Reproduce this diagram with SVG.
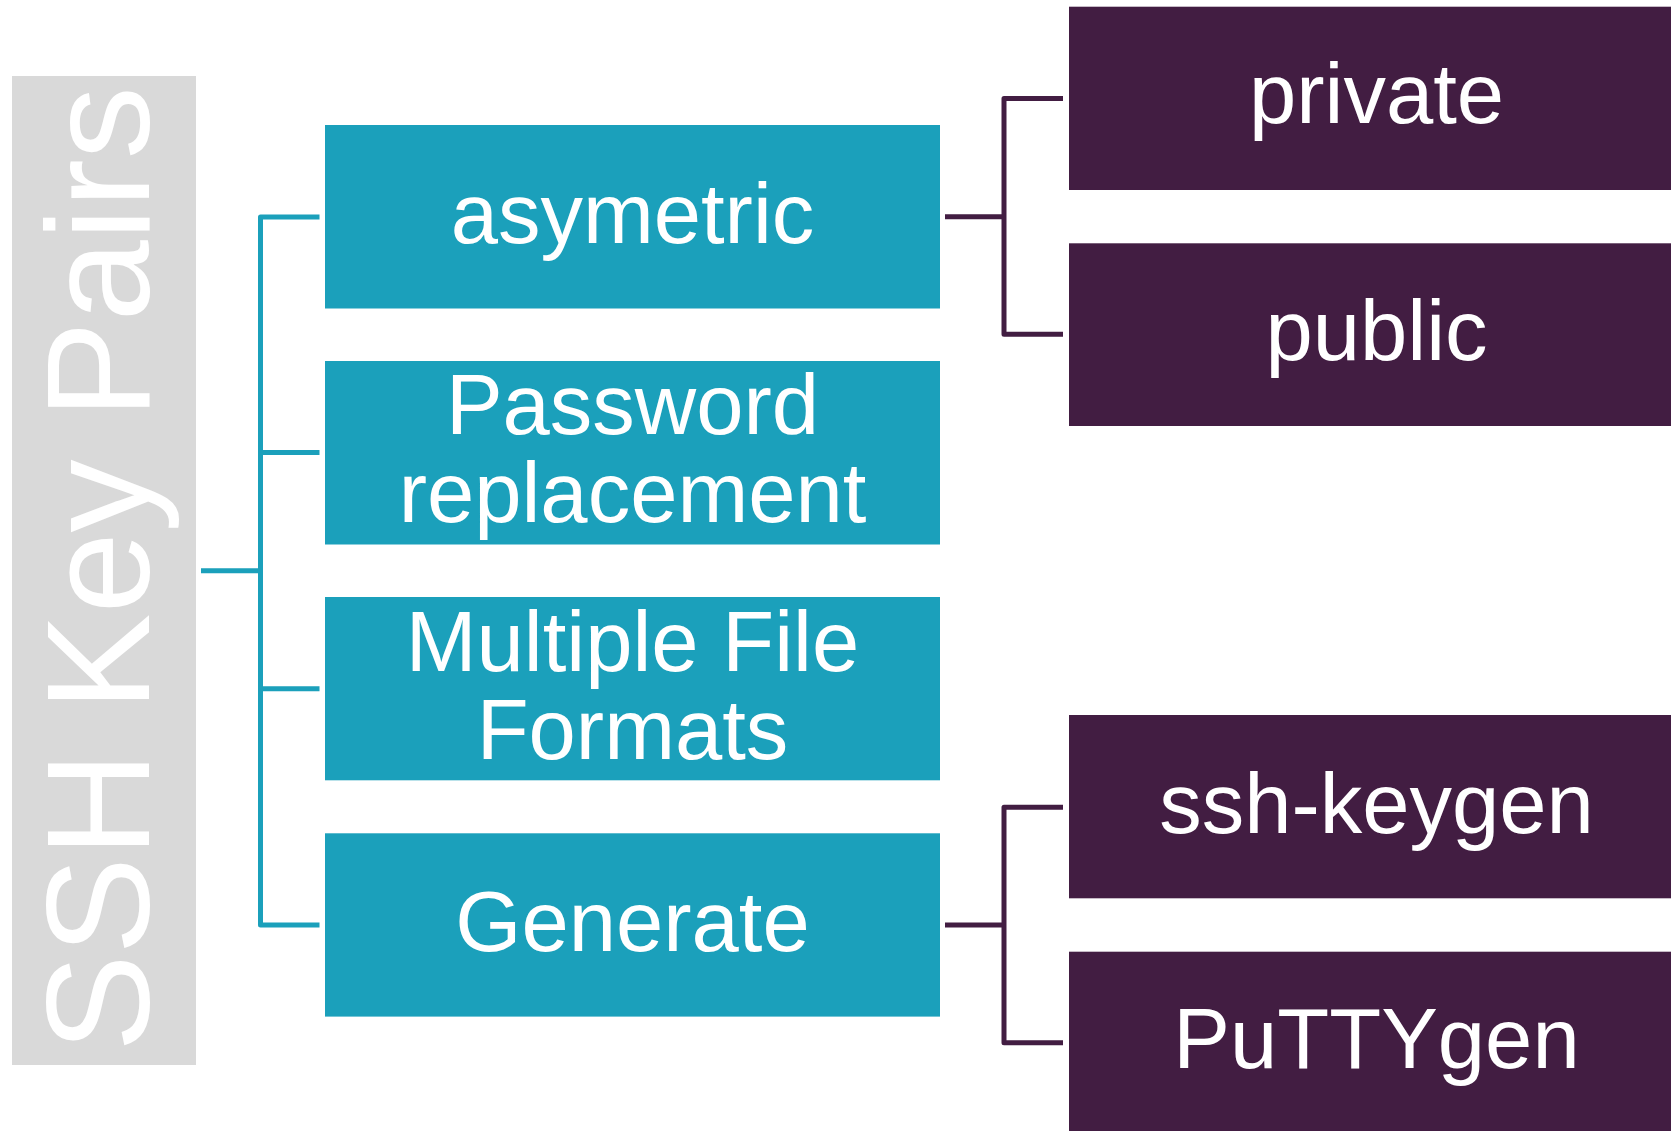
<svg xmlns="http://www.w3.org/2000/svg" width="1671" height="1131" viewBox="0 0 1671 1131">
<style>
.t{font-family:"Liberation Sans",Arial,sans-serif;fill:#ffffff;text-anchor:middle;font-size:85px}
.teal{fill:#1BA0BB}
.purp{fill:#421D42}
.ct{fill:none;stroke:#1BA0BB;stroke-width:5;stroke-linejoin:round}
.cp{fill:none;stroke:#421D42;stroke-width:5;stroke-linejoin:round}
</style>
<rect width="1671" height="1131" fill="#ffffff"/>
<g id="connectors">
<path class="ct" d="M201,570.7 H260.5 M319.5,217 H260.5 V925 H319.5 M260.5,452.5 H319.5 M260.5,688.7 H319.5"/>
<path class="cp" d="M945,216.7 H1004 M1063,98.5 H1004 V334.3 H1063"/>
<path class="cp" d="M945,925 H1004 M1063,807.3 H1004 V1042.7 H1063"/>
</g>
<g id="root">
<rect x="12" y="76" width="184" height="989" fill="#D9D9D9"/>
<text class="t" style="font-size:146px" transform="translate(149,569) rotate(-90)">SSH Key Pairs</text>
</g>
<g id="asymetric">
<rect class="teal" x="325" y="125" width="615" height="183.5"/>
<text class="t" x="632.5" y="242.7">asymetric</text>
</g>
<g id="password">
<rect class="teal" x="325" y="361" width="615" height="183.5"/>
<text class="t" x="632.5" y="434.3">Password</text>
<text class="t" x="632.5" y="522.3">replacement</text>
</g>
<g id="formats">
<rect class="teal" x="325" y="597" width="615" height="183.3"/>
<text class="t" x="632.5" y="671">Multiple File</text>
<text class="t" x="632.5" y="759.3">Formats</text>
</g>
<g id="generate">
<rect class="teal" x="325" y="833.3" width="615" height="183.3"/>
<text class="t" x="632.5" y="951">Generate</text>
</g>
<g id="private">
<rect class="purp" x="1069" y="6.7" width="615" height="183.3"/>
<text class="t" x="1376.5" y="123.3">private</text>
</g>
<g id="public">
<rect class="purp" x="1069" y="243.3" width="615" height="182.7"/>
<text class="t" x="1376.5" y="360">public</text>
</g>
<g id="sshkeygen">
<rect class="purp" x="1069" y="715" width="615" height="183.3"/>
<text class="t" x="1376.5" y="832.7">ssh-keygen</text>
</g>
<g id="puttygen">
<rect class="purp" x="1069" y="951.7" width="615" height="183.3"/>
<text class="t" x="1376.5" y="1068.3">PuTTYgen</text>
</g>
</svg>
